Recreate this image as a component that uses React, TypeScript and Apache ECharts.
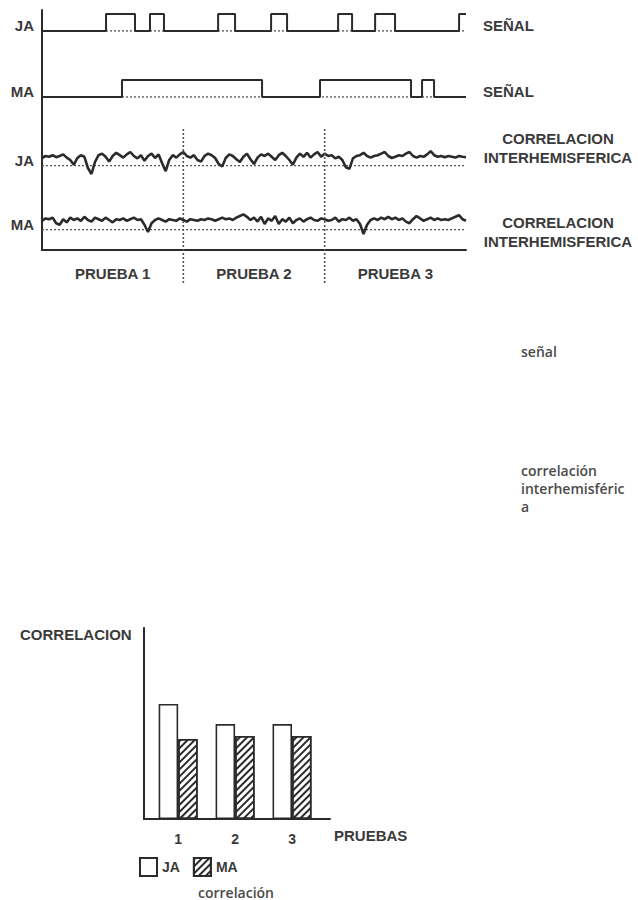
import React, { useEffect, useRef } from "react";
import * as echarts from "echarts";

// ---------- data ----------
const timeMax = 30;
const sampleStep = 0.25;
const trialLabels = ["PRUEBA 1", "PRUEBA 2", "PRUEBA 3"];
const trialCenters = [5, 15, 25];
const trialBounds = [10, 20];

// signal on/off intervals (time units)
const jaSignalPulses = [
  [4.53, 6.58], [7.64, 8.63], [12.46, 13.66], [16.21, 17.34],
  [20.95, 21.94], [23.57, 24.98], [29.51, 30],
];
const maSignalPulses = [[5.66, 15.57], [19.67, 26.11], [26.89, 27.74]];

// interhemispheric correlation traces, one value every 0.25 time units
const jaCorrelation = [
  0.55, 0.60, 0.58, 0.62, 0.57, 0.60, 0.64, 0.56,
  0.50, 0.38, 0.55, 0.62, 0.58, 0.30, 0.15, 0.45,
  0.62, 0.66, 0.58, 0.46, 0.60, 0.68, 0.62, 0.56,
  0.64, 0.70, 0.60, 0.54, 0.62, 0.48, 0.60, 0.66,
  0.55, 0.64, 0.42, 0.22, 0.50, 0.62, 0.56, 0.64,
  0.70, 0.60, 0.56, 0.62, 0.50, 0.46, 0.60, 0.66,
  0.62, 0.55, 0.40, 0.34, 0.55, 0.64, 0.60, 0.52,
  0.45, 0.58, 0.66, 0.52, 0.40, 0.56, 0.64, 0.60,
  0.66, 0.58, 0.50, 0.62, 0.68, 0.60, 0.50, 0.38,
  0.56, 0.66, 0.58, 0.68, 0.56, 0.64, 0.70, 0.58,
  0.66, 0.60, 0.62, 0.54, 0.58, 0.50, 0.32, 0.28,
  0.54, 0.60, 0.62, 0.68, 0.60, 0.56, 0.60, 0.62,
  0.66, 0.70, 0.60, 0.55, 0.58, 0.62, 0.60, 0.66,
  0.70, 0.60, 0.56, 0.60, 0.58, 0.64, 0.72, 0.62,
  0.58, 0.60, 0.57, 0.60, 0.58, 0.56, 0.60, 0.58,
  0.57,
];
const maCorrelation = [
  0.58, 0.64, 0.62, 0.66, 0.52, 0.48, 0.62, 0.54,
  0.66, 0.60, 0.64, 0.58, 0.68, 0.60, 0.56, 0.66,
  0.62, 0.58, 0.66, 0.60, 0.54, 0.62, 0.60, 0.64,
  0.58, 0.62, 0.66, 0.60, 0.62, 0.48, 0.30, 0.52,
  0.60, 0.64, 0.60, 0.56, 0.62, 0.60, 0.58, 0.64,
  0.60, 0.56, 0.62, 0.60, 0.58, 0.62, 0.60, 0.64,
  0.62, 0.58, 0.62, 0.66, 0.62, 0.64, 0.60, 0.66,
  0.70, 0.74, 0.68, 0.60, 0.66, 0.56, 0.68, 0.50,
  0.64, 0.58, 0.70, 0.50, 0.62, 0.56, 0.66, 0.52,
  0.60, 0.64, 0.56, 0.62, 0.66, 0.60, 0.58, 0.64,
  0.62, 0.58, 0.60, 0.66, 0.56, 0.62, 0.60, 0.66,
  0.58, 0.62, 0.50, 0.25, 0.48, 0.60, 0.64, 0.60,
  0.66, 0.62, 0.68, 0.62, 0.66, 0.60, 0.64, 0.56,
  0.52, 0.62, 0.70, 0.64, 0.58, 0.62, 0.66, 0.60,
  0.64, 0.60, 0.62, 0.60, 0.64, 0.68, 0.72, 0.62,
  0.58,
];
const correlationReference = 0.36;

// bar chart: mean correlation per trial
const barTrials = [1, 2, 3];
const barJA = [60.2, 49.7, 49.7];
const barMA = [41.9, 43.5, 43.5];

// ---------- helpers ----------
function pulsesToPoints(pulses: number[][]) {
  const pts: number[][] = [[0, 0]];
  let level = 0;
  for (const [a, b] of pulses) {
    pts.push([a, 0], [a, 1], [b, 1]);
    level = 1;
    if (b < timeMax) {
      pts.push([b, 0]);
      level = 0;
    }
  }
  if (pts[pts.length - 1][0] < timeMax) pts.push([timeMax, level]);
  return pts;
}
const traceToPoints = (vals: number[]) => vals.map((v, i) => [i * sampleStep, v]);

const INK = "#2b2b2b";
const TXT = "#3a3a3a";
const CAPS = "'Liberation Sans', Arial, sans-serif";
const NOTE = "'Open Sans', sans-serif";

export default function App() {
  const ref = useRef<HTMLDivElement>(null);

  useEffect(() => {
    document.body.style.margin = "0";
    const chart = echarts.init(ref.current as HTMLDivElement, null, { renderer: "svg" });

    const baseGrid = { left: 42, width: 424, outerBoundsMode: "none", containLabel: false };
    const grids = [
      { ...baseGrid, top: 10, height: 240 }, // frame
      { ...baseGrid, top: 14, height: 17 }, // JA signal
      { ...baseGrid, top: 80, height: 17 }, // MA signal
      { ...baseGrid, top: 140, height: 40 }, // JA correlation
      { ...baseGrid, top: 204, height: 40 }, // MA correlation
      { ...baseGrid, top: 127, height: 156 }, // trial separators
      { left: 144, top: 628, width: 186, height: 191, outerBoundsMode: "none", containLabel: false },
    ];

    const capsLabel = { color: TXT, fontFamily: CAPS, fontWeight: "bold", fontSize: 15 };

    const hiddenX = (i: number) => ({ gridIndex: i, type: "value", min: 0, max: timeMax, show: false });
    const labelY = (i: number, at: number, text: string) => ({
      gridIndex: i, type: "value", min: 0, max: 1,
      axisLine: { show: false }, axisTick: { show: false }, splitLine: { show: false },
      axisLabel: { ...capsLabel, customValues: [at], formatter: () => text, margin: 8 },
    });

    const xAxis: any[] = [
      {
        gridIndex: 0, type: "value", min: 0, max: timeMax,
        axisLine: { show: true, onZero: false, lineStyle: { color: INK, width: 2 } },
        axisTick: { show: false }, splitLine: { show: false },
        axisLabel: {
          ...capsLabel, customValues: trialCenters, margin: 16,
          formatter: (v: number) => trialLabels[trialCenters.indexOf(v)] || "",
        },
      },
      hiddenX(1), hiddenX(2), hiddenX(3), hiddenX(4), hiddenX(5),
      {
        gridIndex: 6, type: "value", min: 0.4, max: 3.667,
        axisLine: { show: true, onZero: false, lineStyle: { color: INK, width: 2 } },
        axisTick: { show: false }, splitLine: { show: false },
        axisLabel: { ...capsLabel, fontSize: 14, customValues: barTrials, margin: 13, formatter: (v: number) => String(v) },
        name: "PRUEBAS", nameLocation: "end", nameGap: 4,
        nameTextStyle: { ...capsLabel, verticalAlign: "top", padding: [9, 0, 0, 0] },
      },
    ];

    const yAxis: any[] = [
      {
        gridIndex: 0, type: "value", min: 0, max: 1,
        axisLine: { show: true, onZero: false, lineStyle: { color: INK, width: 2 } },
        axisTick: { show: false }, splitLine: { show: false }, axisLabel: { show: false },
      },
      labelY(1, 0.3, "JA"),
      labelY(2, 0.3, "MA"),
      labelY(3, 0.5, "JA"),
      labelY(4, 0.5, "MA"),
      { gridIndex: 5, type: "value", min: 0, max: 1, show: false },
      {
        gridIndex: 6, type: "value", min: 0, max: 100,
        axisLine: { show: true, onZero: false, lineStyle: { color: INK, width: 2 } },
        axisTick: { show: false }, splitLine: { show: false }, axisLabel: { show: false },
      },
    ];

    const dotted = (grid: number, data: number[][], name: string, width = 1.4) => ({
      type: "line", name, xAxisIndex: grid, yAxisIndex: grid, data, symbol: "none",
      silent: true, lineStyle: { color: "#555", width, type: [2, 2] },
    });
    const solid = (grid: number, data: number[][], name: string, width: number) => ({
      type: "line", name, xAxisIndex: grid, yAxisIndex: grid, data, symbol: "none",
      silent: true, lineStyle: { color: INK, width, type: "solid" },
    });

    const series: any[] = [
      dotted(1, [[0, 0], [timeMax, 0]], "ja-base"),
      solid(1, pulsesToPoints(jaSignalPulses), "JA señal", 2),
      dotted(2, [[0, 0], [timeMax, 0]], "ma-base"),
      solid(2, pulsesToPoints(maSignalPulses), "MA señal", 2),
      dotted(3, [[0, correlationReference], [timeMax, correlationReference]], "ja-ref"),
      solid(3, traceToPoints(jaCorrelation), "JA correlación", 2.6),
      dotted(4, [[0, correlationReference], [timeMax, correlationReference]], "ma-ref"),
      solid(4, traceToPoints(maCorrelation), "MA correlación", 2.6),
      ...trialBounds.map((b, i) => dotted(5, [[b, 0], [b, 1]], "sep" + i, 1.6)),
      {
        type: "bar", name: "JA", xAxisIndex: 6, yAxisIndex: 6,
        data: barTrials.map((t, i) => [t, barJA[i]]),
        barWidth: 19.5, barGap: "0%",
        itemStyle: { color: "#ffffff", borderColor: INK, borderWidth: 1.6 },
      },
      {
        type: "bar", name: "MA", xAxisIndex: 6, yAxisIndex: 6,
        data: barTrials.map((t, i) => [t, barMA[i]]),
        barWidth: 19.5, barGap: "0%",
        itemStyle: {
          color: "#ffffff", borderColor: INK, borderWidth: 1.6,
          decal: {
            symbol: "rect", symbolSize: 1, dashArrayX: [1, 0], dashArrayY: [2, 3],
            rotation: -Math.PI / 4, color: INK, backgroundColor: "#ffffff",
          },
        },
      },
    ];

    const capsText = (text: string, x: number, y: number, align = "left", lineHeight = 19) => ({
      type: "text", x, y, silent: true,
      style: {
        text, fill: TXT, fontFamily: CAPS, fontWeight: "bold", fontSize: 15,
        align, verticalAlign: "middle", lineHeight,
      },
    });
    const noteText = (text: string, x: number, y: number) => ({
      type: "text", x, y, silent: true,
      style: {
        text, fill: "#4a4a4a", fontFamily: NOTE, fontWeight: 600, fontSize: 14,
        align: "left", verticalAlign: "top", lineHeight: 18,
      },
    });

    chart.setOption({
      animation: false,
      backgroundColor: "#ffffff",
      grid: grids,
      xAxis,
      yAxis,
      series,
      legend: {
        data: ["JA", "MA"], left: 139, top: 857, orient: "horizontal", padding: 0,
        icon: "rect", itemWidth: 17, itemHeight: 18, itemGap: 13,
        selectedMode: false,
        textStyle: { color: TXT, fontFamily: CAPS, fontWeight: "bold", fontSize: 14 },
      },
      graphic: {
        elements: [
          capsText("SEÑAL", 483, 25),
          capsText("SEÑAL", 483, 91),
          capsText("CORRELACION\nINTERHEMISFERICA", 558, 148, "center"),
          capsText("CORRELACION\nINTERHEMISFERICA", 558, 232, "center"),
          capsText("CORRELACION", 20, 634),
          noteText("señal", 521, 342),
          noteText("correlación\ninterhemisféric\na", 521, 461),
          noteText("correlación", 198, 883),
        ],
      },
    });

    return () => chart.dispose();
  }, []);

  return <div ref={ref} style={{ width: 638, height: 900 }} />;
}
